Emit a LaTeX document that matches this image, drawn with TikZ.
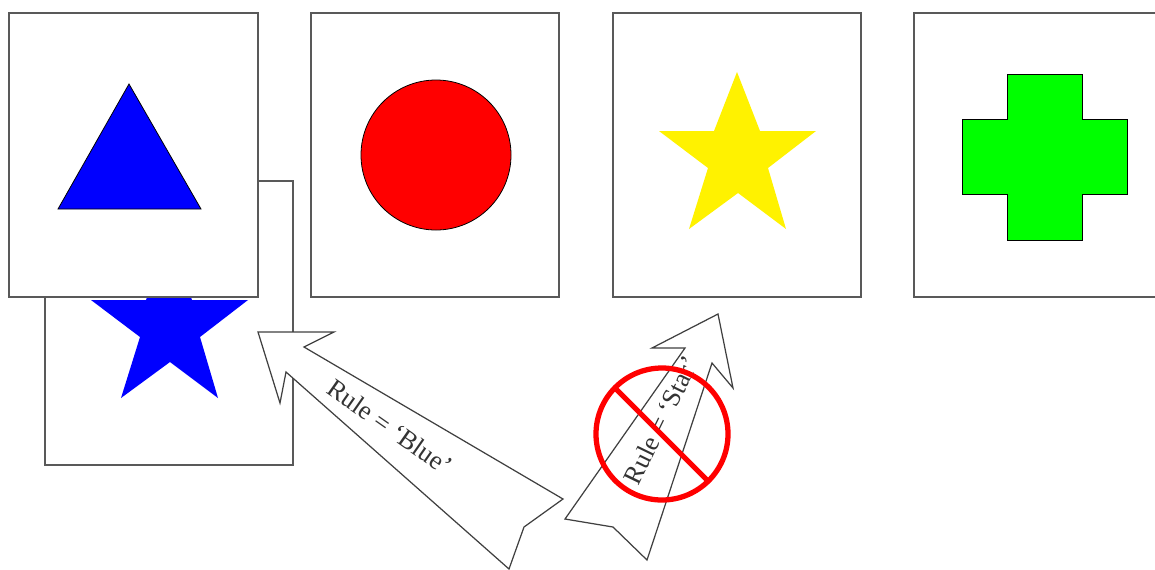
\documentclass[tikz,border=0pt]{standalone}
\usepackage{fontspec}
\setmainfont{Liberation Serif}
\usepackage{xcolor}
\tikzset{
    card/.style={draw=black!65, line width=1.1pt, fill=white},
    shapeline/.style={draw=black, line width=0.45pt},
    rulearrow/.style={draw=black!75, line width=0.7pt, fill=white, line join=miter},
    rulelabel/.style={text=black!80, font=\fontsize{15}{18}\selectfont, inner sep=0pt}
}
\newcommand{\starpath}{(737,72) -- (760,131) -- (816,131) -- (768,168) -- (786,229) -- (738,193) -- (689,229) -- (708,168) -- (659,131) -- (714,131) -- cycle}

\begin{document}
\begin{tikzpicture}[x=0.02cm, y=-0.02cm]
    \useasboundingbox (0,0) rectangle (1155,569);
    \clip (0,0) rectangle (1155,569);

    % Card behind the first one
    \draw [card] (45,181) rectangle (293,465);
    \fill [blue, shift={(-568,169)}] \starpath;

    % Top row
    \draw [card] (9,13) rectangle (258,297);
    \draw [shapeline, fill=blue] (129,84) -- (201,209) -- (58,209) -- cycle;

    \draw [card] (311,13) rectangle (559,297);
    \draw [shapeline, fill=red] (436,155) circle (75);

    \draw [card] (613,13) rectangle (861,297);
    \fill [yellow] \starpath;

    \draw [card] (914,13) rectangle (1163,297);
    \draw [shapeline, fill=green] (1007,74) -- (1082,74) -- (1082,119) -- (1127,119) -- (1127,194) -- (1082,194) -- (1082,240) -- (1007,240) -- (1007,194) -- (962,194) -- (962,119) -- (1007,119) -- cycle;

    % Arrow to the first card
    \draw [rulearrow] (258,332) -- (334,332) -- (304,347) -- (563,499) -- (524,527) -- (509,569) -- (286,372) -- (280,403) -- cycle;
    \node [rulelabel, rotate=-35] (blueLabel) at (390,427) {Rule = ‘Blue’};

    % Arrow to the third card
    \draw [rulearrow] (718,314) -- (733,388) -- (712,363) -- (647,560) -- (613,527) -- (565,519) -- (685,348) -- (652,348) -- cycle;
    \node [rulelabel, rotate=64] (starLabel) at (661,420) {Rule = ‘Star’};

    % Crossed out
    \draw [red, line width=3pt] (662,434) circle (66);
    \draw [red, line width=3pt] (615,388) -- (707,480);
\end{tikzpicture}
\end{document}
